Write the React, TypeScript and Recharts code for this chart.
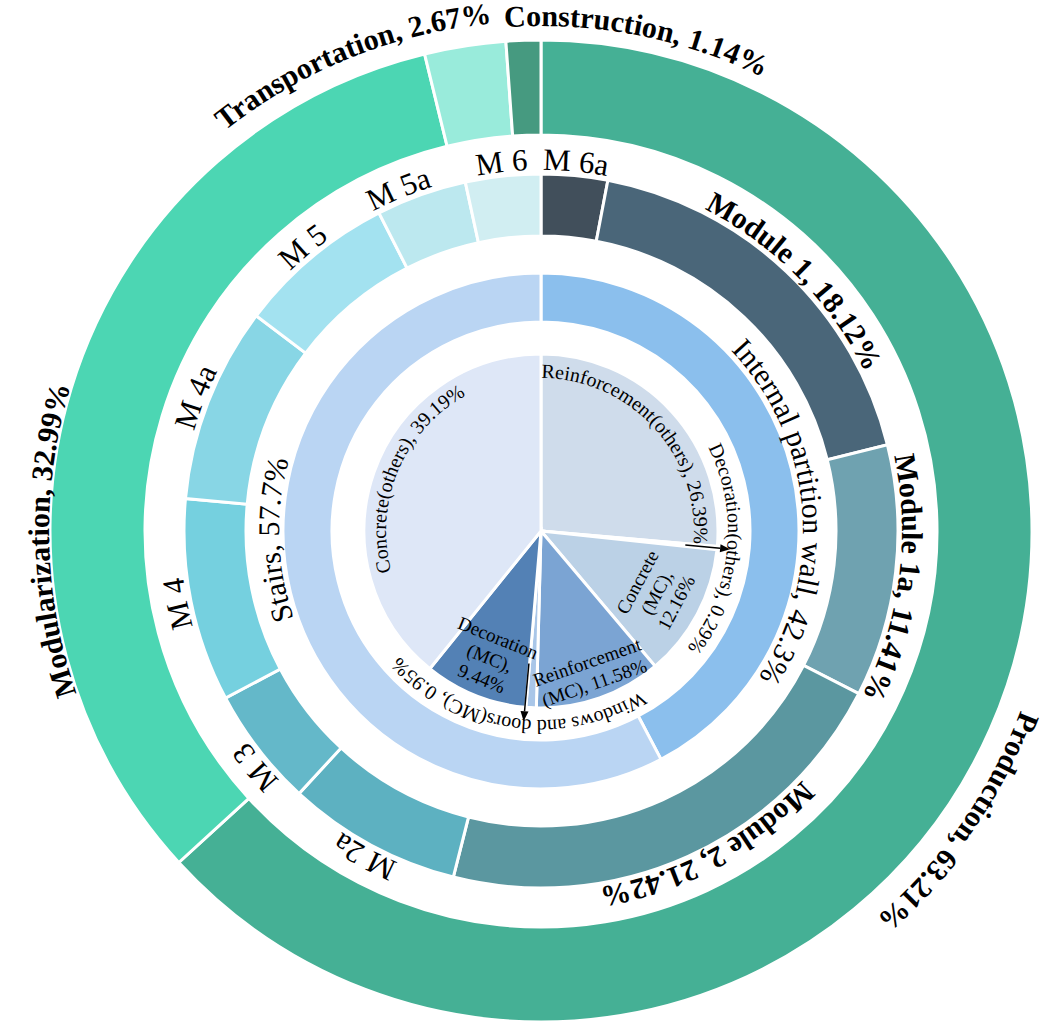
import { PieChart, Pie, Cell } from 'recharts'

const FONT = "'Times New Roman', 'Liberation Serif', serif"
const W = 1044
const H = 1028
const CX = 541
const CY = 531

// outer ring: life-cycle stage
const stageNames = ['Production', 'Modularization', 'Transportation', 'Construction']
const stageShares = [63.21, 32.99, 2.67, 1.14]
const stageColors = ['#45B095', '#4CD6B3', '#99EBDB', '#469A80']

// second ring: modules (only Module 1 / 1a / 2 are labelled with values)
const moduleNames = ['M 6a', 'Module 1', 'Module 1a', 'Module 2', 'M 2a', 'M 3', 'M 4', 'M 4a', 'M 5', 'M 5a', 'M 6']
const moduleShares = [3.0, 18.12, 11.41, 21.42, 7.9, 5.4, 9.2, 8.85, 7.2, 4.1, 3.4]
const moduleColors = ['#414F5B', '#4A6679', '#6FA2B0', '#5B97A0', '#5DB1C1', '#64B8C9', '#75D0DF', '#88D6E5', '#A3E2F0', '#BCE8EF', '#D1EEF2']

// third ring: component
const partNames = ['Internal partition wall', 'Stairs']
const partShares = [42.3, 57.7]
const partColors = ['#8BBFED', '#BAD5F3']

// inner pie: material
const materialNames = ['Reinforcement(others)', 'Decoration(others)', 'Concrete (MC)', 'Reinforcement (MC)', 'Windows and doors(MC)', 'Decoration (MC)', 'Concrete(others)']
const materialShares = [26.39, 0.29, 12.16, 11.58, 0.95, 9.44, 39.19]
const materialColors = ['#CFDCEB', '#C5D6EA', '#BBD1E6', '#7BA4D3', '#A9C6E8', '#5381B5', '#DEE7F7']

const stageData = stageNames.map((name, i) => ({ name, value: stageShares[i] }))
const moduleData = moduleNames.map((name, i) => ({ name, value: moduleShares[i] }))
const partData = partNames.map((name, i) => ({ name, value: partShares[i] }))
const materialData = materialNames.map((name, i) => ({ name, value: materialShares[i] }))

// label placement (baseline radius, angular nudge from slice centre)
const stageLabel: Record<string, { r: number; shift: number }> = {
  Production: { r: 512, shift: 11 },
  Modularization: { r: 492, shift: -18 },
  Transportation: { r: 510, shift: -13 },
  Construction: { r: 505, shift: 13 },
}
const moduleShift: Record<string, number> = { 'Module 1': 2, 'Module 1a': 1, 'M 5a': -3, 'Module 2': -3.5, 'M 3': -2 }
const partShift: Record<string, number> = { 'Internal partition wall': 9, Stairs: 12 }
const materialLabel: Record<string, any> = {
  'Reinforcement(others)': { kind: 'arc', r: 153, shift: 0 },
  'Decoration(others)': { kind: 'arc', r: 187, shift: 0.5, arrow: [145, 190, 0] },
  'Concrete (MC)': { kind: 'slice', r: 131, lines: 3 },
  'Reinforcement (MC)': { kind: 'slice', r: 150, lines: 2 },
  'Windows and doors(MC)': { kind: 'arc', r: 189, shift: 5, arrow: [133, 191, 2] },
  'Decoration (MC)': { kind: 'slice', r: 137, lines: 3 },
  'Concrete(others)': { kind: 'arc', r: 155, shift: 3.5 },
}

const RAD = Math.PI / 180
const polar = (cx: number, cy: number, r: number, deg: number) => [cx + r * Math.sin(deg * RAD), cy - r * Math.cos(deg * RAD)]

// clockwise arc centred on deg (degrees clockwise from 12 o'clock)
function arcPath(cx: number, cy: number, r: number, deg: number, span = 300) {
  const [x0, y0] = polar(cx, cy, r, deg - span / 2)
  const [x1, y1] = polar(cx, cy, r, deg + span / 2)
  return `M ${x0} ${y0} A ${r} ${r} 0 ${span > 180 ? 1 : 0} 1 ${x1} ${y1}`
}

function CurvedText({ id, cx, cy, r, deg, text, size, bold }: any) {
  return (
    <g>
      <defs>
        <path id={id} d={arcPath(cx, cy, r, deg)} />
      </defs>
      <text fontSize={size} fontWeight={bold ? 700 : 400} fontFamily={FONT} fill="#000">
        <textPath href={`#${id}`} startOffset="50%" textAnchor="middle">
          {text}
        </textPath>
      </text>
    </g>
  )
}

const clockDeg = (midAngle: number) => 90 - midAngle

const renderStageLabel = (p: any) => {
  const cfg = stageLabel[p.name]
  const deg = clockDeg(p.midAngle) + cfg.shift
  return (
    <CurvedText id={`stage-${p.index}`} cx={p.cx} cy={p.cy} r={cfg.r} deg={deg}
      text={`${p.name}, ${p.value}%`} size={30} bold />
  )
}

const renderModuleLabel = (p: any) => {
  const isModule = p.name.startsWith('Module')
  const deg = clockDeg(p.midAngle) + (moduleShift[p.name] || 0)
  return (
    <CurvedText id={`module-${p.index}`} cx={p.cx} cy={p.cy} r={p.outerRadius + 4} deg={deg}
      text={isModule ? `${p.name}, ${p.value}%` : p.name} size={isModule ? 30 : 31} bold={isModule} />
  )
}

const renderPartLabel = (p: any) => {
  const deg = clockDeg(p.midAngle) + (partShift[p.name] || 0)
  return (
    <CurvedText id={`part-${p.index}`} cx={p.cx} cy={p.cy} r={p.outerRadius + 4} deg={deg}
      text={`${p.name}, ${p.value}%`} size={30} />
  )
}

function Arrow({ cx, cy, r1, r2, deg }: any) {
  const [x1, y1] = polar(cx, cy, r1, deg)
  const [x2, y2] = polar(cx, cy, r2, deg)
  const ux = Math.sin(deg * RAD)
  const uy = -Math.cos(deg * RAD)
  const nx = -uy
  const ny = ux
  const bx = x2 - 10 * ux
  const by = y2 - 10 * uy
  return (
    <g>
      <line x1={x1} y1={y1} x2={bx} y2={by} stroke="#000" strokeWidth={1.5} />
      <polygon points={`${x2},${y2} ${bx + 4 * nx},${by + 4 * ny} ${bx - 4 * nx},${by - 4 * ny}`} fill="#000" />
    </g>
  )
}

const renderMaterialLabel = (p: any) => {
  const cfg = materialLabel[p.name]
  const mid = clockDeg(p.midAngle)
  if (cfg.kind === 'arc') {
    return (
      <g>
        <CurvedText id={`mat-${p.index}`} cx={p.cx} cy={p.cy} r={cfg.r} deg={mid + cfg.shift}
          text={`${p.name}, ${p.value}%`} size={20} />
        {cfg.arrow && <Arrow cx={p.cx} cy={p.cy} r1={cfg.arrow[0]} r2={cfg.arrow[1]} deg={mid + cfg.arrow[2]} />}
      </g>
    )
  }
  const head = p.name.replace(' (MC)', '')
  const lines = cfg.lines === 2 ? [head, `(MC), ${p.value}%`] : [head, '(MC),', `${p.value}%`]
  const [x, y] = polar(p.cx, p.cy, cfg.r, mid)
  const rot = mid > 90 && mid < 270 ? mid - 180 : mid
  const lh = 22
  return (
    <g transform={`rotate(${rot} ${x} ${y})`}>
      {lines.map((t, i) => (
        <text key={i} x={x} y={y + (i - (lines.length - 1) / 2) * lh} textAnchor="middle"
          dominantBaseline="central" fontSize={19} fontFamily={FONT} fill="#000">
          {t}
        </text>
      ))}
    </g>
  )
}

export default function App() {
  return (
    <div style={{ position: 'absolute', left: 0, top: 0, width: W, height: H, background: '#fff' }}>
      <PieChart width={W} height={H} margin={{ top: 0, right: 0, bottom: 0, left: 0 }}>
        <Pie data={stageData} dataKey="value" nameKey="name" cx={CX} cy={CY} innerRadius={396} outerRadius={491}
          startAngle={90} endAngle={-270} stroke="#fff" strokeWidth={3} isAnimationActive={false}
          label={renderStageLabel} labelLine={false}>
          {stageData.map((d, i) => <Cell key={d.name} fill={stageColors[i]} />)}
        </Pie>
        <Pie data={moduleData} dataKey="value" nameKey="name" cx={CX} cy={CY} innerRadius={295} outerRadius={357}
          startAngle={90} endAngle={-270} stroke="#fff" strokeWidth={3} isAnimationActive={false}
          label={renderModuleLabel} labelLine={false}>
          {moduleData.map((d, i) => <Cell key={d.name} fill={moduleColors[i]} />)}
        </Pie>
        <Pie data={partData} dataKey="value" nameKey="name" cx={CX} cy={CY} innerRadius={209} outerRadius={258}
          startAngle={90} endAngle={-270} stroke="#fff" strokeWidth={3} isAnimationActive={false}
          label={renderPartLabel} labelLine={false}>
          {partData.map((d, i) => <Cell key={d.name} fill={partColors[i]} />)}
        </Pie>
        <Pie data={materialData} dataKey="value" nameKey="name" cx={CX} cy={CY} innerRadius={0} outerRadius={177}
          startAngle={90} endAngle={-270} stroke="#fff" strokeWidth={3} isAnimationActive={false}
          label={renderMaterialLabel} labelLine={false}>
          {materialData.map((d, i) => <Cell key={d.name} fill={materialColors[i]} />)}
        </Pie>
      </PieChart>
    </div>
  )
}
